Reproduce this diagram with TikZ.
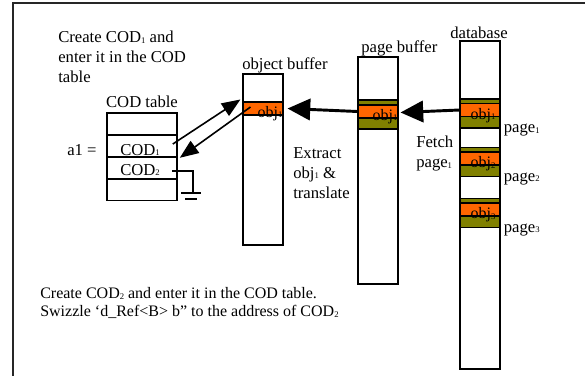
\documentclass[tikz,border=0pt]{standalone}
\usepackage{fontspec}
\setmainfont{Liberation Serif}
\usetikzlibrary{positioning, calc, arrows.meta}
\definecolor{ObjOrange} {HTML}{FF6600}
\definecolor{PageOlive} {HTML}{808000}
\newcommand{\lowno}[1]{\raisebox{-0.5pt}{\fontsize{6.5}{7}\selectfont #1}}
\tikzset{
  buf/.style={draw, line width=1.2pt, minimum width=30pt, inner sep=0pt},
  codrow/.style={draw, line width=1.2pt, minimum width=52.5pt, minimum height=16.5pt, inner sep=0pt},
  objband/.style={draw, line width=0.8pt, fill=ObjOrange, minimum width=30pt, minimum height=9.75pt, inner sep=0pt},
  pageband/.style={draw, line width=0.8pt, fill=PageOlive, minimum width=30pt, minimum height=21.75pt, inner sep=0pt},
  lbl/.style={inner sep=0pt, font=\fontsize{12.5}{15}\selectfont},
  objtxt/.style={inner sep=0pt, font=\fontsize{12}{14}\selectfont},
  linkarrow/.style={line width=1.2pt, -{Triangle[length=14pt, width=11pt]}},
  bigarrow/.style={line width=2.2pt, -{Triangle[length=17pt, width=16pt]}}
}
\begin{document}
\begin{tikzpicture}[x=0.75pt, y=-0.75pt]
  \useasboundingbox (0,0) rectangle (585,375);
  \draw[line width=1.2pt, black!85] (13,380) -- (13,3) -- (590,3);

  % COD table
  \node[codrow] (codA) at (142,124) {};
  \node[codrow] (cod1) at (142,146) {};
  \node[codrow] (cod2) at (142,168) {};
  \node[codrow] (codB) at (142,189.5) {};
  \node[lbl, above=3pt of codA] (codlbl) {COD table};
  \node[lbl, anchor=base west] (a1) at (67,155) {a1 =};
  \node[lbl, anchor=base west] (cod1txt) at (120,155) {COD\lowno{1}};
  \node[lbl, anchor=base west] (cod2txt) at (120,175) {COD\lowno{2}};
  \node[lbl, anchor=north west, align=left] (step1) at (58,31)
    {Create COD\lowno{1} and\\enter it in the COD\\table};

  % ground
  \coordinate (gnd) at (193,193);
  \draw[line width=0.8pt] ($(cod2.east)+(-6,3)$) -| (gnd);
  \draw[line width=1pt] ($(gnd)+(-12,0)$) -- ($(gnd)+(8,0)$);
  \draw[line width=1pt] ($(gnd)+(-8,6)$) -- ($(gnd)+(4,6)$);

  % object buffer
  \node[buf, minimum height=128.25pt] (objbuf) at (263,159.5) {};
  \node[objband] (oobj) at (263,108.5) {};
  \node[objtxt, anchor=base] (oobjtxt) at (270,117) {obj\lowno{1}};
  \node[lbl, anchor=base west] (objlbl) at (242,69) {object buffer};

  % page buffer
  \node[buf, minimum height=170.25pt] (pagebuf) at (378,170.5) {};
  \node[pageband] (ppage) at (378,114.5) {};
  \node[objband] (pobj) at ($(ppage.center)+(0,-3)$) {};
  \node[objtxt, anchor=base] (pobjtxt) at (385,120) {obj\lowno{1}};
  \node[lbl, anchor=base west] (pagelbl) at (361,52) {page buffer};
  \node[lbl, anchor=north west, align=left] (step2) at (293,147)
    {Extract\\obj\lowno{1} \&\\translate};

  % database
  \node[buf, minimum height=246pt] (db) at (480,205) {};
  \node[lbl, anchor=base west] (dblbl) at (450,38) {database};
  \foreach \n/\y in {1/113.5, 2/162, 3/213} {
    \node[pageband] (dpage\n) at (480,\y) {};
    \node[objband] (dobj\n) at ($(dpage\n.center)+(0,-3.5)$) {};
    \node[objtxt, anchor=base] (dobjtxt\n) at ($(dobj\n.south)+(3,2)$) {obj\lowno{\n}};
    \node[lbl, anchor=base west] (dpagelbl\n) at ($(dpage\n.south east)+(3,4)$) {page\lowno{\n}};
  }
  \node[lbl, anchor=north west, align=left] (step3) at (416,136)
    {Fetch\\page\lowno{1}};

  % arrows
  \draw[linkarrow] ($(cod1.east)+(-5,-2)$) -- ($(oobj.north west)+(-2,-2)$);
  \draw[linkarrow] ($(oobj.west)+(8,-1.5)$) -- ($(cod1.south east)+(2,0)$);
  \draw[bigarrow] (pobj.west) -- ($(oobj.east)+(4,0)$);
  \draw[bigarrow] (dobj1.west) -- ($(pobj.east)+(2,1)$);

  % bottom note
  \node[lbl, anchor=north west, align=left, font=\fontsize{12}{13.5}\selectfont] (step4) at (40,287)
    {Create COD\lowno{2} and enter it in the COD table.\\Swizzle ‘d\_Ref<B> b” to the address of COD\lowno{2}};
\end{tikzpicture}
\end{document}
